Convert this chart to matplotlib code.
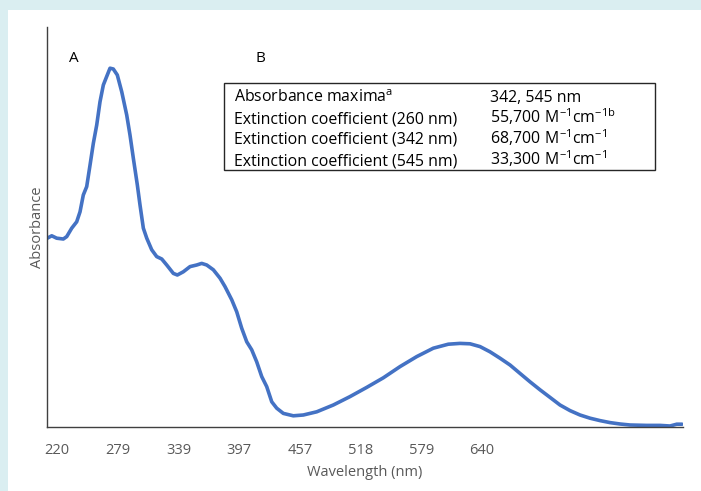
import matplotlib
matplotlib.use('Agg')
import matplotlib.pyplot as plt
from matplotlib.patches import Rectangle

# category labels on the x axis
tick_labels = ['220', '279', '339', '397', '457', '518', '579', '640']

# curve, x in category-label units, y in fraction of axis height
pos = [-0.160, -0.087, -0.005, 0.104, 0.160, 0.242, 0.324, 0.379, 0.433, 0.489,
       0.544, 0.598, 0.654, 0.708, 0.763, 0.807, 0.873, 0.927, 0.993, 1.066,
       1.148, 1.202, 1.257, 1.323, 1.367, 1.422, 1.478, 1.560, 1.642, 1.725,
       1.807, 1.916, 1.982, 2.080, 2.191, 2.301, 2.383, 2.466, 2.575, 2.685,
       2.767, 2.878, 2.960, 3.042, 3.125, 3.207, 3.289, 3.372, 3.454, 3.537,
       3.619, 3.728, 3.892, 4.057, 4.278, 4.551, 4.826, 5.101, 5.375, 5.650,
       5.925, 6.198, 6.445, 6.638, 6.803, 6.968, 7.132, 7.297, 7.462, 7.626,
       7.791, 7.956, 8.121, 8.285, 8.450, 8.615, 8.780, 8.944, 9.109, 9.274,
       9.439, 9.714, 9.933, 10.097, 10.208, 10.295]
absorb = [0.472, 0.478, 0.472, 0.470, 0.476, 0.497, 0.513, 0.538, 0.580, 0.601,
          0.655, 0.709, 0.755, 0.813, 0.855, 0.872, 0.897, 0.895, 0.880, 0.838,
          0.780, 0.730, 0.672, 0.605, 0.555, 0.497, 0.472, 0.443, 0.426, 0.420,
          0.405, 0.384, 0.380, 0.388, 0.401, 0.405, 0.409, 0.405, 0.393, 0.372,
          0.351, 0.318, 0.288, 0.247, 0.213, 0.193, 0.163, 0.126, 0.101, 0.063,
          0.047, 0.034, 0.028, 0.030, 0.038, 0.055, 0.076, 0.099, 0.123, 0.151,
          0.176, 0.197, 0.207, 0.209, 0.208, 0.201, 0.188, 0.172, 0.155, 0.134,
          0.113, 0.093, 0.074, 0.055, 0.041, 0.030, 0.022, 0.016, 0.011, 0.0075,
          0.005, 0.004, 0.004, 0.0025, 0.007, 0.007]

# inset table
table_left = ['Absorbance maxima$^{\\mathregular{a}}$',
              'Extinction coefficient (260 nm)',
              'Extinction coefficient (342 nm)',
              'Extinction coefficient (545 nm)']
table_right = ['342, 545 nm',
               '$\\mathregular{55{,}700\\ M^{-1}cm^{-1b}}$',
               '$\\mathregular{68{,}700\\ M^{-1}cm^{-1}}$',
               '$\\mathregular{33{,}300\\ M^{-1}cm^{-1}}$']

plt.rcParams['font.family'] = ['Open Sans', 'DejaVu Sans']
plt.rcParams['mathtext.fontset'] = 'custom'
plt.rcParams['mathtext.rm'] = 'Open Sans'

W, H = 701, 491
fig = plt.figure(figsize=(W / 100, H / 100), dpi=100)
fig.patch.set_facecolor('#daeef1')
fig.patches.append(Rectangle((8 / W, 0), 1, 1 - 10 / H, transform=fig.transFigure,
                             facecolor='white', edgecolor='none', zorder=-10))

ax = fig.add_axes([47 / W, 1 - 427 / H, (683 - 47) / W, 400 / H])
ax.set_facecolor('none')
ax.plot(pos, absorb, color='#4472c4', lw=2.6, solid_capstyle='round', solid_joinstyle='round')
ax.set_xlim(-0.165, 10.311)
ax.set_ylim(0, 1)
ax.set_xticks(range(len(tick_labels)))
ax.set_xticklabels(tick_labels)
ax.set_yticks([])
ax.tick_params(axis='x', length=0, pad=11.5, labelsize=10.5, labelcolor='#595959')
for s in ['top', 'right']:
    ax.spines[s].set_visible(False)
for s in ['left', 'bottom']:
    ax.spines[s].set_color('#404040')
    ax.spines[s].set_linewidth(1)
ax.set_xlabel('Wavelength (nm)', fontsize=10.5, color='#595959', labelpad=5)
ax.set_ylabel('Absorbance', fontsize=10.5, color='#595959', labelpad=1.5)

fig.text(74 / W, 1 - 62 / H, 'A', fontsize=11, ha='center', va='baseline')
fig.text(260 / W, 1 - 62 / H, 'B', fontsize=11, ha='center', va='baseline')

fig.patches.append(Rectangle((224 / W, 1 - 170 / H), (655 - 224) / W, 87 / H,
                             transform=fig.transFigure, facecolor='white',
                             edgecolor='#262626', lw=1, zorder=1))
for i in range(len(table_left)):
    y = 1 - (102 + 21 * i) / H
    fig.text(234 / W, y, table_left[i], fontsize=11.4, va='baseline', zorder=3)
    fig.text(490 / W, y, table_right[i], fontsize=11.4, va='baseline', zorder=3)

fig.savefig('out.png', dpi=100, facecolor=fig.get_facecolor())
